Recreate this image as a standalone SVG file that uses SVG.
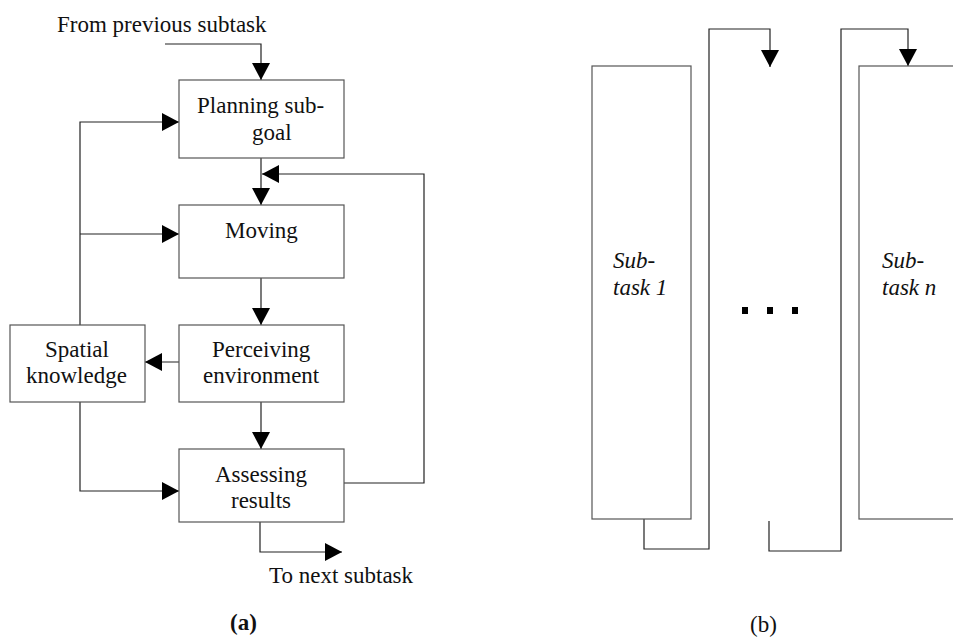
<svg xmlns="http://www.w3.org/2000/svg" width="953" height="639" viewBox="0 0 953 639">
<style>
.box{fill:#fff;stroke:#555;stroke-width:1.2}
.ln{fill:none;stroke:#222;stroke-width:1.2}
.t{font-family:'Liberation Serif','DejaVu Serif',serif;font-size:23px;fill:#111}
.i{font-style:italic}
.b{font-weight:bold}
</style>
<defs>
<marker id="ah" viewBox="0 0 17 18" refX="17" refY="9" markerWidth="17" markerHeight="18" markerUnits="userSpaceOnUse" orient="auto">
<path d="M0,0 L17,9 L0,18 z" fill="#000"/>
</marker>
</defs>
<rect width="953" height="639" fill="#fff"/>
<g id="connectors">
<path class="ln" d="M165,44 H261 V80" marker-end="url(#ah)"/>
<path class="ln" d="M80,325 V122 H179" marker-end="url(#ah)"/>
<path class="ln" d="M80,234 H179" marker-end="url(#ah)"/>
<path class="ln" d="M261,158 V205" marker-end="url(#ah)"/>
<path class="ln" d="M344,483 H424 V174 H262" marker-end="url(#ah)"/>
<path class="ln" d="M261,278 V325" marker-end="url(#ah)"/>
<path class="ln" d="M179,362 H145" marker-end="url(#ah)"/>
<path class="ln" d="M261,402 V449" marker-end="url(#ah)"/>
<path class="ln" d="M80,402 V491 H179" marker-end="url(#ah)"/>
<path class="ln" d="M260,522 V552 H342" marker-end="url(#ah)"/>
<path class="ln" d="M644,519 V549 H709 V29 H770 V67" marker-end="url(#ah)"/>
<path class="ln" d="M769,521 V551 H841 V29 H908 V66" marker-end="url(#ah)"/>
</g>
<g id="planning">
<rect class="box" x="179" y="80" width="165" height="78"/>
<text class="t" x="197" y="113" font-family="Liberation Serif, serif">Planning sub-</text>
<text class="t" x="252" y="140">goal</text>
</g>
<g id="moving">
<rect class="box" x="179" y="205" width="165" height="73"/>
<text class="t" x="225" y="238">Moving</text>
</g>
<g id="perceiving">
<rect class="box" x="179" y="325" width="165" height="77"/>
<text class="t" x="212" y="357">Perceiving</text>
<text class="t" x="203" y="383">environment</text>
</g>
<g id="spatial">
<rect class="box" x="10" y="325" width="135" height="77"/>
<text class="t" x="45" y="357">Spatial</text>
<text class="t" x="26" y="383">knowledge</text>
</g>
<g id="assessing">
<rect class="box" x="179" y="449" width="165" height="73"/>
<text class="t" x="215" y="482">Assessing</text>
<text class="t" x="231" y="508">results</text>
</g>
<g id="labels-a">
<text class="t" x="57" y="32">From previous subtask</text>
<text class="t" x="269" y="583">To next subtask</text>
<text class="t b" x="230" y="630">(a)</text>
</g>
<g id="subtask1">
<rect class="box" x="592" y="66" width="99" height="453"/>
<text class="t i" x="613" y="268">Sub-</text>
<text class="t i" x="613" y="295">task 1</text>
</g>
<g id="subtaskn">
<rect class="box" x="859" y="66" width="110" height="453"/>
<text class="t i" x="882" y="268">Sub-</text>
<text class="t i" x="882" y="295">task n</text>
</g>
<g id="ellipsis">
<rect x="742" y="307" width="6" height="7" fill="#000"/>
<rect x="767" y="307" width="6" height="7" fill="#000"/>
<rect x="792" y="307" width="6" height="7" fill="#000"/>
</g>
<g id="labels-b">
<text class="t" x="750" y="632">(b)</text>
</g>
</svg>
